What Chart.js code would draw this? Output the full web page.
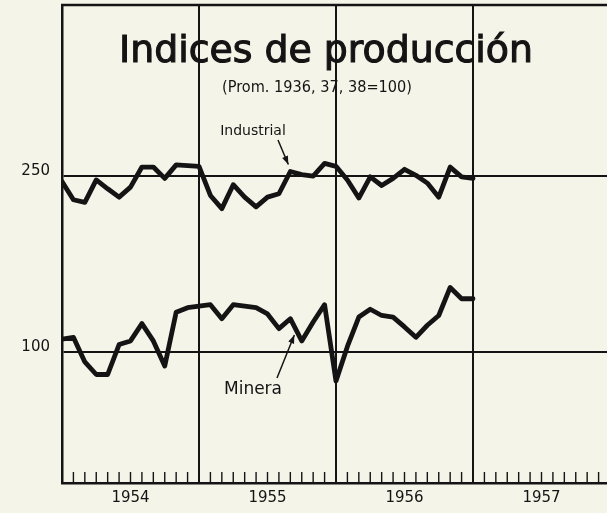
<!DOCTYPE html>
<html><head><meta charset="utf-8">
<script src="https://cdn.jsdelivr.net/npm/chart.js@4"></script>
<style>
html,body{margin:0;padding:0;background:#f5f4e9;overflow:hidden;width:607px;height:513px}
#wrap{position:relative;width:612px;height:513px}
canvas{display:block}
</style></head>
<body><div id="wrap"><canvas id="c" width="612" height="513"></canvas></div>
<script>
// Monthly indices, Jan 1954 .. Jan 1957 (index 0 = start of 1954)
const industrial = [243,221,218,245,234,224,236,262,262,247,265,264,
                    263,226,211,239,224,213,224,228,256,252,250,267,
                    263,245,223,249,238,247,259,251,241,224,262,249,247];
const minera     = [107,108,95,89,89,104,106,116,106,93,123,126,
                    127,128,119,128,127,126,122,113,119,106,117,128,
                    86,103,120,125,121,120,114,108,115,121,140,132,132];
const yearLabels = ['1954','1955','1956','1957'];
const yTickValues = [100, 250];
const titleText = 'Indices de producción';
const subtitleText = '(Prom. 1936, 37, 38=100)';
const seriesNames = ['Industrial', 'Minera'];

const INK = '#141414';
const FAM = '"DejaVu Sans"';
const toXY = arr => arr.map((v, i) => ({x: i, y: v}));

// draw text horizontally fitted to a target width (null = natural width)
function fitText(ctx, text, cx, baseY, size, targetW, thick) {
  ctx.font = 'normal ' + size + 'px ' + FAM;
  const w = ctx.measureText(text).width;
  ctx.save();
  ctx.translate(cx, baseY);
  if (targetW) ctx.scale(targetW / w, 1);
  ctx.textAlign = 'center'; ctx.textBaseline = 'alphabetic';
  ctx.fillText(text, 0, 0);
  if (thick) { ctx.lineWidth = thick; ctx.strokeText(text, 0, 0); }
  ctx.restore();
}
function arrow(ctx, x1, y1, x2, y2) {
  ctx.beginPath(); ctx.moveTo(x1, y1); ctx.lineTo(x2, y2); ctx.stroke();
  const a = Math.atan2(y2 - y1, x2 - x1), L = 9, s = 0.35;
  ctx.beginPath();
  ctx.moveTo(x2, y2);
  ctx.lineTo(x2 - L * Math.cos(a - s), y2 - L * Math.sin(a - s));
  ctx.lineTo(x2 - L * Math.cos(a + s), y2 - L * Math.sin(a + s));
  ctx.closePath(); ctx.fill();
}

const decor = {
  id: 'decor',
  afterDraw(chart) {
    const {ctx, chartArea: ca, scales: {x, y}} = chart;
    ctx.save();
    ctx.strokeStyle = INK; ctx.fillStyle = INK;
    // top border
    ctx.lineWidth = 2.5;
    ctx.beginPath(); ctx.moveTo(ca.left - 1, ca.top); ctx.lineTo(ca.right, ca.top); ctx.stroke();
    // monthly tick marks
    ctx.lineWidth = 1.4;
    for (let m = 0; m <= 48; m++) {
      const px = x.getPixelForValue(m);
      ctx.beginPath(); ctx.moveTo(px, ca.bottom); ctx.lineTo(px, ca.bottom - 11); ctx.stroke();
    }
    // title + subtitle
    fitText(ctx, titleText, 326, 62, 38, 414, 1.1);
    fitText(ctx, subtitleText, 317, 92, 15, 190, 0);
    // series labels
    fitText(ctx, seriesNames[0], 253, 135, 14, null, 0);
    fitText(ctx, seriesNames[1], 253, 394, 17, null, 0);
    ctx.lineWidth = 1.5;
    const ix = x.getPixelForValue(20), iy = y.getPixelForValue(industrial[20]);
    arrow(ctx, 278, 140, ix - 2, iy - 7);
    const mx = x.getPixelForValue(20) + 4, my = y.getPixelForValue(minera[21]) - 6;
    arrow(ctx, 277, 378, mx, my);
    ctx.restore();
  }
};

new Chart(document.getElementById('c'), {
  type: 'line',
  data: {
    datasets: [
      {label: seriesNames[0], data: toXY(industrial), borderColor: INK, borderWidth: 4.8,
       pointRadius: 0, tension: 0, borderJoinStyle: 'round', borderCapStyle: 'round'},
      {label: seriesNames[1], data: toXY(minera), borderColor: INK, borderWidth: 4.8,
       pointRadius: 0, tension: 0, borderJoinStyle: 'round', borderCapStyle: 'round'}
    ]
  },
  options: {
    responsive: false, animation: false, devicePixelRatio: 1,
    layout: {padding: {top: 5, right: 2, bottom: 0, left: 0}},
    plugins: {legend: {display: false}, tooltip: {enabled: false}, title: {display: false}},
    scales: {
      x: {
        type: 'linear', min: 0, max: 48, position: 'bottom',
        afterBuildTicks: s => { s.ticks = [0,6,12,18,24,30,36,42,48].map(v => ({value: v})); },
        afterFit: s => { s.height = 30; s.paddingLeft = 0; s.paddingRight = 0; },
        grid: {drawTicks: false, lineWidth: 2,
               color: c => (c.tick && c.tick.value % 12 === 0) ? INK : 'rgba(0,0,0,0)'},
        border: {display: true, color: INK, width: 2.5},
        ticks: {padding: 6, color: INK, maxRotation: 0, autoSkip: false,
                font: {family: FAM, size: 15},
                callback: v => (v % 12 === 6) ? yearLabels[(v - 6) / 12] : ''}
      },
      y: {
        type: 'logarithmic', min: 50.6, max: 609,
        afterBuildTicks: s => { s.ticks = yTickValues.map(v => ({value: v})); },
        afterFit: s => { s.width = 62; s.paddingTop = 0; s.paddingBottom = 0; },
        grid: {drawTicks: false, lineWidth: 2, color: INK},
        border: {display: true, color: INK, width: 2.5},
        ticks: {padding: 12, color: INK, labelOffset: -5,
                font: {family: FAM, size: 15},
                callback: v => String(v)}
      }
    }
  },
  plugins: [decor]
});
</script>
</body></html>
